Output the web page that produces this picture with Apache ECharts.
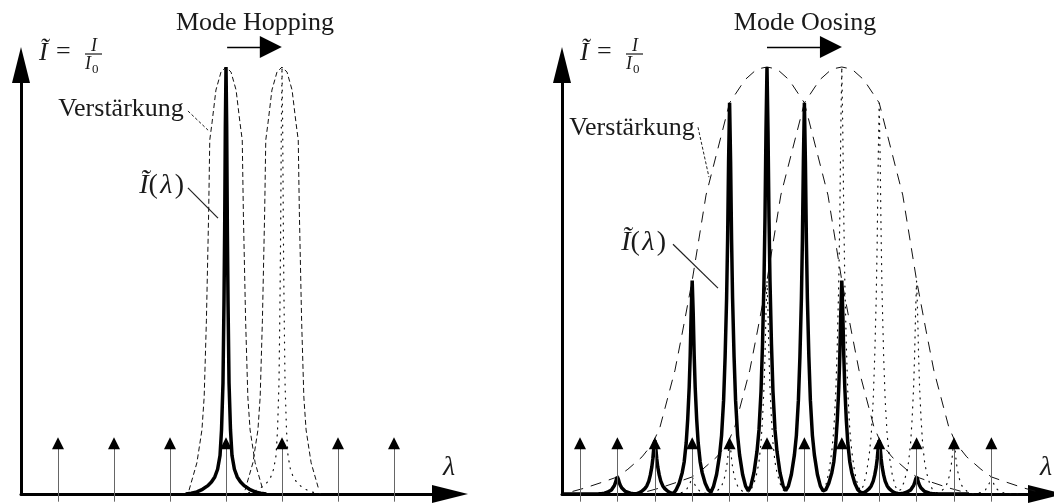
<!DOCTYPE html>
<html>
<head>
<meta charset="UTF-8">
<title>Mode Hopping / Mode Oosing</title>
<script src="https://cdn.jsdelivr.net/npm/echarts@6/dist/echarts.min.js"></script>
<style>
body { margin: 0; padding: 0; background: #fff; }
#main { width: 1054px; height: 503px; }
</style>
</head>
<body>
<div id="main"></div>
<script>
// x = wavelength in units of the mode spacing, y = I/I0 (1 = top of gain curve)

// left panel: mode hopping
var modesLeft = [1, 2, 3, 4, 5, 6, 7];
var heightsLeft = [0, 0, 0, 1, 0, 0, 0];        // solid spectrum
var heightsLeftShift = [0, 0, 0, 0, 1, 0, 0];   // dotted spectrum after the hop
var gainCentersLeft = [4, 5];
// [offset from centre, relative value], one half of a symmetric curve
var gainShapeLeft = [[0, 1], [0.09, 0.988], [0.18, 0.946], [0.25, 0.869], [0.29, 0.829],
  [0.31, 0.658], [0.35, 0.407], [0.39, 0.227], [0.43, 0.15], [0.52, 0.073], [0.66, 0.009]];
var lineShapeLeft = [[0, 1], [0.012, 0.86], [0.024, 0.62], [0.036, 0.45], [0.054, 0.26],
  [0.08, 0.15], [0.107, 0.09], [0.15, 0.058], [0.2, 0.04], [0.26, 0.028], [0.33, 0.019],
  [0.42, 0.011], [0.52, 0.005], [0.62, 0.002], [0.72, 0]];

// right panel: mode oosing
var modesRight = [1, 2, 3, 4, 5, 6, 7, 8, 9, 10, 11, 12];
var heightsRight = [0, 0.04, 0.126, 0.5, 0.916, 1, 0.916, 0.5, 0.126, 0.04, 0, 0];
var heightsRightShift = [0, 0, 0, 0.04, 0.126, 0.5, 0.916, 1, 0.916, 0.5, 0.126, 0.04];
var gainCentersRight = [6, 8];
var gainShapeRight = [[0, 1], [0.27, 0.995], [0.59, 0.97], [1, 0.916], [1.63, 0.7], [2, 0.5],
  [2.25, 0.384], [2.46, 0.29], [2.67, 0.22], [2.86, 0.157], [3.05, 0.119], [3.34, 0.087],
  [3.72, 0.058], [4, 0.04], [4.39, 0.028], [4.87, 0.014], [5.2, 0.006]];
var lineShapeRight = [[0, 1], [0.027, 0.85], [0.053, 0.65], [0.08, 0.5], [0.12, 0.35],
  [0.16, 0.24], [0.214, 0.15], [0.267, 0.1], [0.348, 0.05], [0.428, 0.02], [0.5, 0.008]];
var spanRight = [0.52, 11.4];
var spanRightShift = [3.15, 12.8];

function mirror(shape) {
  var out = [];
  for (var i = shape.length - 1; i > 0; i--) out.push([-shape[i][0], shape[i][1]]);
  return out.concat(shape);
}
function gainCurve(c, shape) {
  return mirror(shape).map(function (p) { return [c + p[0], p[1]]; });
}
function spectrum(modes, heights, shape, span) {
  var pts = span ? [[span[0], 0]] : [];
  var m = mirror(shape);
  modes.forEach(function (x, i) {
    if (!heights[i]) return;
    m.forEach(function (p) { pts.push([x + p[0], heights[i] * p[1]]); });
  });
  if (span) pts.push([span[1], 0]);
  return pts;
}
function stems(modes) {
  return modes.map(function (x) { return { coords: [[x, -0.018], [x, 0.112]] }; });
}
function heads(modes) {
  return modes.map(function (x) { return { coords: [[x, 0.105], [x, 0.119]] }; });
}

var FONT = '"Liberation Serif", "DejaVu Serif", serif';
var INK = '#1a1a1a';

function axisX(i, min, max) {
  return {
    type: 'value', gridIndex: i, min: min, max: max,
    axisLine: { show: true, onZero: false, symbol: ['none', 'triangle'], symbolSize: [18, 36],
      lineStyle: { color: '#000', width: 3, cap: 'round' } },
    axisTick: { show: false }, axisLabel: { show: false }, splitLine: { show: false }
  };
}
function axisY(i) {
  return {
    type: 'value', gridIndex: i, min: 0, max: 1.0047,
    axisLine: { show: true, onZero: false, symbol: ['none', 'triangle'], symbolSize: [18, 36],
      lineStyle: { color: '#000', width: 3, cap: 'round' } },
    axisTick: { show: false }, axisLabel: { show: false }, splitLine: { show: false }
  };
}
function curve(i, data, style, z) {
  return {
    type: 'line', xAxisIndex: i, yAxisIndex: i, data: data, showSymbol: false, symbol: 'none',
    smooth: false, lineStyle: style, z: z, silent: true, animation: false
  };
}
function arrows(i, data, color, size, width, type) {
  return {
    type: 'lines', coordinateSystem: 'cartesian2d', xAxisIndex: i, yAxisIndex: i, clip: false,
    symbol: size ? ['none', 'triangle'] : ['none', 'none'], symbolSize: size || 0,
    lineStyle: { color: color, width: width, opacity: 1, curveness: 0, type: type || 'solid' },
    data: data, silent: true, animation: false, z: 4
  };
}
function label(x, y, text, size, align, italic) {
  var f = (italic ? 'italic ' : '') + size + 'px ' + FONT;
  return { type: 'text', x: x, y: y, silent: true,
    style: { text: text, font: f, fill: INK, textAlign: align, align: align,
      textVerticalAlign: 'middle', verticalAlign: 'middle',
      rich: { it: { font: 'italic ' + size + 'px ' + FONT, fill: INK },
              up: { font: size + 'px ' + FONT, fill: INK } } } };
}
function ratioLabel(dx) {
  return [
    label(dx + 39, 53, 'Ĩ', 26, 'left', true),
    label(dx + 56, 52, '=', 26, 'left', false),
    label(dx + 94, 46, 'I', 18, 'center', true),
    { type: 'line', silent: true, shape: { x1: dx + 85, y1: 54, x2: dx + 102, y2: 54 },
      style: { stroke: INK, lineWidth: 1.2 } },
    label(dx + 85, 64, 'I', 18, 'left', true),
    label(dx + 92, 70, '0', 13, 'left', false)
  ];
}

var dashL = [5, 3], dashR = [11, 8], dots = [1, 6];
var series = [];
gainCentersLeft.forEach(function (c) {
  series.push(curve(0, gainCurve(c, gainShapeLeft), { color: '#111', width: 1, type: dashL }, 2));
});
series.push(curve(0, spectrum(modesLeft, heightsLeftShift, lineShapeLeft), { color: '#111', width: 1.2, type: dots, cap: 'round' }, 2));
series.push(curve(0, spectrum(modesLeft, heightsLeft, lineShapeLeft), { color: '#000', width: 3.5 }, 3));
series.push(arrows(0, stems(modesLeft), '#666', 0, 1));
series.push(arrows(0, heads(modesLeft), '#000', [7, 12], 1));

gainCentersRight.forEach(function (c) {
  series.push(curve(1, gainCurve(c, gainShapeRight), { color: '#111', width: 1, type: dashR }, 2));
});
series.push(curve(1, spectrum(modesRight, heightsRightShift, lineShapeRight, spanRightShift), { color: '#111', width: 1.2, type: dots, cap: 'round' }, 2));
series.push(curve(1, spectrum(modesRight, heightsRight, lineShapeRight, spanRight), { color: '#000', width: 3.5 }, 3));
series.push(arrows(1, stems(modesRight), '#666', 0, 1));
series.push(arrows(1, heads(modesRight), '#000', [7, 12], 1));

// title arrows and leader lines
series.push(arrows(0, [{ coords: [[4.02, 1.047], [4.8, 1.047]] }], '#000', [10, 22], 1.3));
series.push(arrows(1, [{ coords: [[6.0, 1.047], [7.71, 1.047]] }], '#000', [10, 22], 1.3));
series.push(arrows(0, [{ coords: [[3.32, 0.897], [3.68, 0.852]] }], '#222', 0, 1, [3, 2]));
series.push(arrows(0, [{ coords: [[3.32, 0.717], [3.857, 0.646]] }], '#222', 0, 1.2));
series.push(arrows(1, [{ coords: [[4.155, 0.859], [4.449, 0.742]] }], '#222', 0, 1, [3, 2]));
series.push(arrows(1, [{ coords: [[3.487, 0.585], [4.69, 0.482]] }], '#222', 0, 1.2));

var graphics = [
  label(255, 23, 'Mode Hopping', 26, 'center', false),
  label(805, 23, 'Mode Oosing', 26, 'center', false),
  label(121, 109, 'Verstärkung', 26, 'center', false),
  label(632, 128, 'Verstärkung', 26, 'center', false),
  label(184, 186, '{it|Ĩ}{up|(\u200a}{it|λ}{up|\u200a)}', 28, 'right', false),
  label(666, 243, '{it|Ĩ}{up|(\u200a}{it|λ}{up|\u200a)}', 28, 'right', false),
  label(449, 468, 'λ', 28, 'center', true),
  label(1046, 468, 'λ', 28, 'center', true)
].concat(ratioLabel(0), ratioLabel(541));

var myChart = echarts.init(document.getElementById('main'));
myChart.setOption({
  animation: false,
  backgroundColor: '#fff',
  grid: [
    { left: 21, top: 65, width: 429, height: 429, outerBoundsMode: 'none' },
    { left: 562, top: 65, width: 484, height: 429, outerBoundsMode: 'none' }
  ],
  xAxis: [axisX(0, 0.339, 8.0), axisX(1, 0.519, 13.46)],
  yAxis: [axisY(0), axisY(1)],
  series: series,
  graphic: graphics
});
</script>
</body>
</html>
